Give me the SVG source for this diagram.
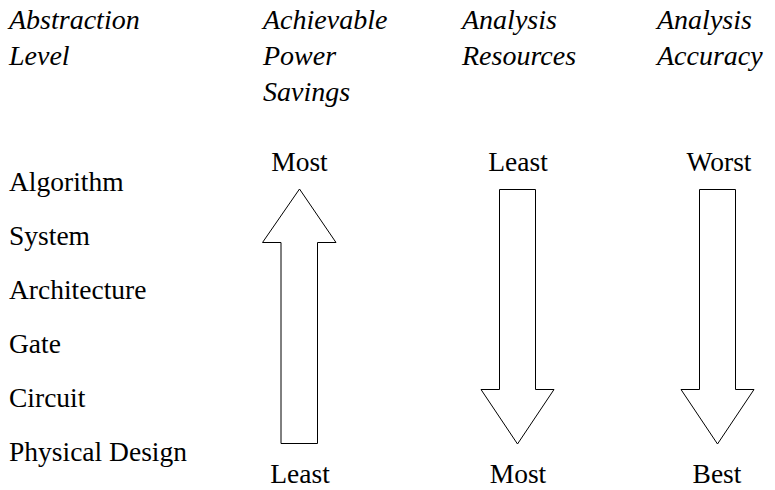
<svg xmlns="http://www.w3.org/2000/svg" width="775" height="490" viewBox="0 0 775 490" font-family="Liberation Serif, DejaVu Serif, serif">
<style>
text{font-family:'Liberation Serif','DejaVu Serif',serif;font-size:27.5px;fill:#000}
.h{font-style:italic;font-size:28px}
.m{text-anchor:middle}
.arrow{fill:#fff;stroke:#000;stroke-width:1}
</style>
<rect width="775" height="490" fill="#fff"/>
<g id="headers">
<text class="h" x="9" y="29">Abstraction</text>
<text class="h" x="9" y="65">Level</text>
<text class="h" x="263" y="29">Achievable</text>
<text class="h" x="263" y="65">Power</text>
<text class="h" x="263" y="101">Savings</text>
<text class="h" x="462" y="29">Analysis</text>
<text class="h" x="462" y="65">Resources</text>
<text class="h" x="657" y="29">Analysis</text>
<text class="h" x="657" y="65">Accuracy</text>
</g>
<g id="levels">
<text x="9" y="191">Algorithm</text>
<text x="9" y="245">System</text>
<text x="9" y="299">Architecture</text>
<text x="9" y="353">Gate</text>
<text x="9" y="407">Circuit</text>
<text x="9" y="461">Physical Design</text>
</g>
<g id="connectors">
<g id="power-arrow">
<text class="m" x="299.5" y="171">Most</text>
<polygon class="arrow" points="299.5,189 336,242.5 317.5,242.5 317.5,443.5 281,443.5 281,242.5 262.5,242.5"/>
<text class="m" x="300" y="483">Least</text>
</g>
<g id="resources-arrow">
<text class="m" x="518" y="171">Least</text>
<polygon class="arrow" points="499.5,189.5 535.5,189.5 535.5,389.5 554,389.5 517.5,444 481,389.5 499.5,389.5"/>
<text class="m" x="518" y="483">Most</text>
</g>
<g id="accuracy-arrow">
<text class="m" x="719" y="171">Worst</text>
<polygon class="arrow" points="699.5,189.5 735.5,189.5 735.5,389.5 754,389.5 717.5,444 681,389.5 699.5,389.5"/>
<text class="m" x="717" y="483">Best</text>
</g>
</g>
</svg>
